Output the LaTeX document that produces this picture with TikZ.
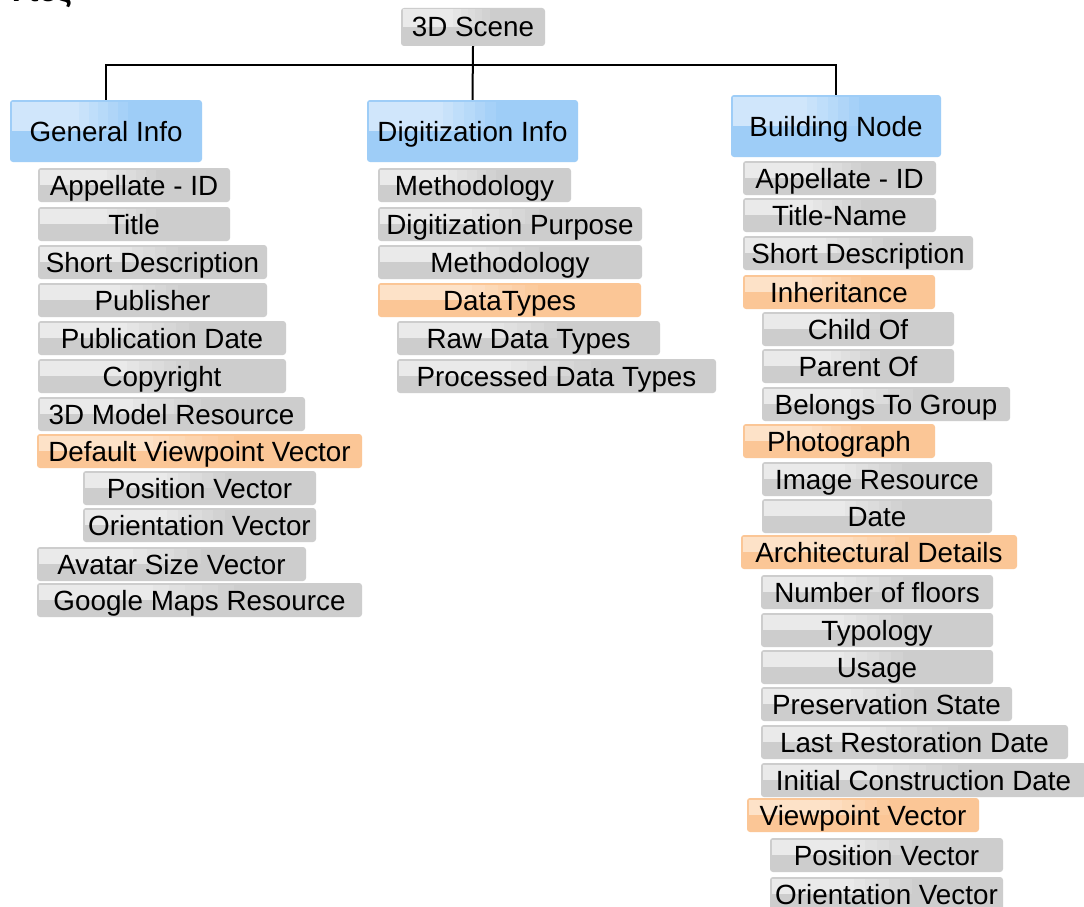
\documentclass[tikz,border=0pt]{standalone}
\usepackage{fontspec}
\setmainfont{Liberation Sans}
\usetikzlibrary{calc}
\definecolor{colg}{RGB}{205,205,205}
\definecolor{colghi}{RGB}{234,234,234}
\definecolor{colo}{RGB}{251,198,150}
\definecolor{colohi}{RGB}{253,226,200}
\definecolor{colh}{RGB}{158,205,247}
\definecolor{colhhi}{RGB}{208,230,251}
\tikzset{
  boxshape/.style={rounded corners=3pt, inner sep=0pt, draw=none},
  boxtext/.style={inner sep=0pt, text=black,
    font=\fontsize{27.8}{30}\selectfont, text height=20pt, text depth=0pt},
  conn/.style={draw=black, line width=2pt},
}
% #1 colour key (g/o/h), #2 name, #3 left x, #4 right x, #5 top y, #6 height, #7 text
\newcommand{\mybox}[7]{%
  \node[boxshape, fill=col#1, minimum width={#4-#3}, minimum height={#6}] (#2) at ({(#3+#4)/2},{#5+#6/2}) {};
  \foreach \k in {0,...,11}{%
    \pgfmathsetmacro{\myPc}{min(100,(12-\k)*100/6)}%
    \fill[col#1hi!\myPc!col#1] ({#3+2+\k*0.6*(#4-#3)/12},{#5+1.5}) rectangle ({#3+2+(\k+1)*0.6*(#4-#3)/12+0.4},{#5+0.5*#6});
  }%
  \node[boxtext] (#2-t) at (#2.center) {#7};}
\begin{document}
\begin{tikzpicture}[x=1pt,y=-1pt]
\useasboundingbox (0,0) rectangle (1084,907);
\fill[white] (0,0) rectangle (1084,907);

% cut-off heading fragment at the top edge
\node[anchor=base west, inner sep=0pt, font=\bfseries\fontsize{32}{34}\selectfont] (frag) at (8,2) {ντες};

\coordinate (bus) at (0,65);

% headers
\mybox{g}{scene}{401}{545}{8}{38}{3D Scene}
\mybox{h}{gen}{10}{202}{100}{62}{General Info}
\mybox{h}{dig}{367}{578}{100}{62}{Digitization Info}
\mybox{h}{bld}{731}{941}{95}{62}{Building Node}

% connectors
\draw[conn] (gen.north) -- (gen.north |- bus) -- (bld.north |- bus) -- (bld.north);
\draw[conn] (scene.south) -- (dig.north);

% General Info
\mybox{g}{g1}{38}{230}{168}{34}{Appellate - ID}
\mybox{g}{g2}{38}{230}{207}{34}{Title}
\mybox{g}{g3}{38}{267}{245}{34}{Short Description}
\mybox{g}{g4}{38}{267}{283}{34}{Publisher}
\mybox{g}{g5}{38}{286}{321}{34}{Publication Date}
\mybox{g}{g6}{38}{286}{359}{34}{Copyright}
\mybox{g}{g7}{38}{305}{397}{34}{3D Model Resource}
\mybox{o}{g8}{37}{362}{434}{34}{Default Viewpoint Vector}
\mybox{g}{g9}{83}{316}{471}{34}{Position Vector}
\mybox{g}{g10}{83}{316}{508}{34}{Orientation Vector}
\mybox{g}{g11}{37}{306}{547}{34}{Avatar Size Vector}
\mybox{g}{g12}{37}{362}{583}{34}{Google Maps Resource}

% Digitization Info
\mybox{g}{d1}{378}{571}{168}{34}{Methodology}
\mybox{g}{d2}{378}{642}{207}{34}{Digitization Purpose}
\mybox{g}{d3}{378}{642}{245}{34}{Methodology}
\mybox{o}{d4}{378}{641}{283}{34}{DataTypes}
\mybox{g}{d5}{397}{660}{321}{34}{Raw Data Types}
\mybox{g}{d6}{397}{716}{359}{34}{Processed Data Types}

% Building Node
\mybox{g}{b1}{743}{936}{161}{34}{Appellate - ID}
\mybox{g}{b2}{743}{936}{198}{34}{Title-Name}
\mybox{g}{b3}{743}{973}{236}{34}{Short Description}
\mybox{o}{b4}{743}{935}{275}{34}{Inheritance}
\mybox{g}{b5}{762}{954}{312}{34}{Child Of}
\mybox{g}{b6}{762}{954}{349}{34}{Parent Of}
\mybox{g}{b7}{762}{1010}{387}{34}{Belongs To Group}
\mybox{o}{b8}{743}{935}{424}{34}{Photograph}
\mybox{g}{b9}{762}{992}{462}{34}{Image Resource}
\mybox{g}{b10}{762}{992}{499}{34}{Date}
\mybox{o}{b11}{741}{1017}{535}{34}{Architectural Details}
\mybox{g}{b12}{761}{993}{575}{34}{Number of floors}
\mybox{g}{b13}{761}{993}{613}{34}{Typology}
\mybox{g}{b14}{761}{993}{650}{34}{Usage}
\mybox{g}{b15}{761}{1012}{687}{34}{Preservation State}
\mybox{g}{b16}{761}{1068}{725}{34}{Last Restoration Date}
\mybox{g}{b17}{761}{1086}{763}{34}{Initial Construction Date}
\mybox{o}{b18}{747}{979}{798}{34}{Viewpoint Vector}
\mybox{g}{b19}{770}{1003}{838}{34}{Position Vector}
\mybox{g}{b20}{770}{1003}{877}{34}{Orientation Vector}
\end{tikzpicture}
\end{document}
